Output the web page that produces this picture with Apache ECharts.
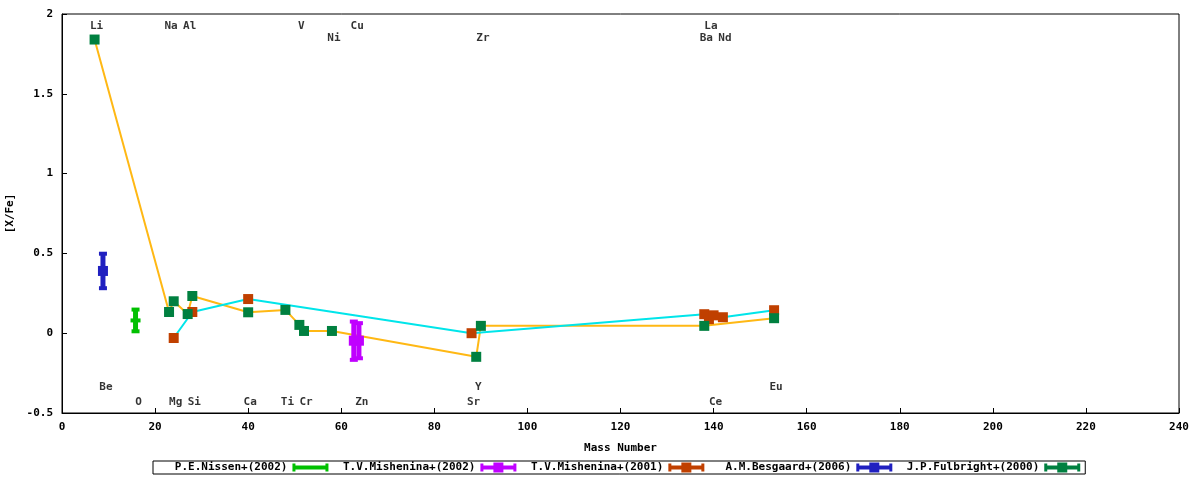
<!DOCTYPE html>
<html>
<head>
<meta charset="utf-8">
<script src="https://cdn.jsdelivr.net/npm/echarts@6/dist/echarts.min.js"></script>
<style>html,body{margin:0;padding:0;background:#fff}#c{width:1200px;height:480px}</style>
</head>
<body>
<div id="c"></div>
<script>
// ---- data ----
const seriesNames = ['P.E.Nissen+(2002)', 'T.V.Mishenina+(2002)', 'T.V.Mishenina+(2001)', 'A.M.Besgaard+(2006)', 'J.P.Fulbright+(2000)'];

const nissenX = [15.8];
const nissenY = [0.08];
const nissenErr = [0.068];

const mish02X = [62.7, 63.8];
const mish02Y = [-0.047, -0.047];
const mish02Err = [0.12, 0.11];

const mish01X = [24, 28, 40, 88, 138, 139, 140, 142, 153];
const mish01Y = [-0.03, 0.133, 0.214, 0.0, 0.119, 0.088, 0.112, 0.10, 0.144];

const besgX = [8.8];
const besgY = [0.39];
const besgErr = [0.108];

const fulX = [7, 23, 24, 27, 28, 40, 48, 51, 52, 58, 89, 90, 138, 153];
const fulY = [1.84, 0.133, 0.20, 0.12, 0.233, 0.131, 0.146, 0.052, 0.014, 0.014, -0.148, 0.046, 0.046, 0.094];

// element labels (name, mass number, row level)
const elemNames = ['Li', 'Na', 'Al', 'V', 'Cu', 'La', 'Ni', 'Zr', 'Ba', 'Nd', 'Be', 'Y', 'Eu', 'O', 'Mg', 'Si', 'Ca', 'Ti', 'Cr', 'Zn', 'Sr', 'Ce'];
const elemMass  = [7, 23, 27, 51, 63, 139, 58, 90, 138, 142, 9, 89, 153, 16, 24, 28, 40, 48, 52, 64, 88, 140];
const elemLevel = [1.923, 1.923, 1.923, 1.923, 1.923, 1.923, 1.85, 1.85, 1.85, 1.85, -0.34, -0.34, -0.34, -0.433, -0.433, -0.433, -0.433, -0.433, -0.433, -0.433, -0.433, -0.433];

const xTicks = { min: 0, max: 240, interval: 20 };
const yTicks = { min: -0.5, max: 2, interval: 0.5 };

// ---- styles ----
const colors = ['#00c000', '#c000ff', '#c04000', '#2020c0', '#008040'];
const FONT = 'DejaVu Sans Mono';

function errData(xs, ys, es) { return xs.map((x, i) => [x, ys[i], es[i]]); }
function pts(xs, ys) { return xs.map((x, i) => [x, ys[i]]); }

function errRender(centerW, centerH) {
  return function (params, api) {
    const x = api.value(0), y = api.value(1), e = api.value(2);
    const c = api.coord([x, y]);
    const t = api.coord([x, y + e]);
    const b = api.coord([x, y - e]);
    const col = api.visual('color');
    const st = { fill: col };
    return {
      type: 'group',
      children: [
        { type: 'rect', shape: { x: c[0] - 2.5, y: t[1], width: 5, height: b[1] - t[1] }, style: st },
        { type: 'rect', shape: { x: c[0] - 4, y: t[1] - 2, width: 8, height: 4 }, style: st },
        { type: 'rect', shape: { x: c[0] - 4, y: b[1] - 2, width: 8, height: 4 }, style: st },
        { type: 'rect', shape: { x: c[0] - centerW / 2, y: c[1] - centerH / 2, width: centerW, height: centerH }, style: st }
      ]
    };
  };
}

const iconBox = 'path://M0,1h3v8h-3zM33,1h3v8h-3zM0,3h36v4h-36zM13,0h10v10h-10z';
const iconBar = 'path://M0,1h3v8h-3zM33,1h3v8h-3zM0,3h36v4h-36zM0,0h0.01v10h-0.01z';

const chart = echarts.init(document.getElementById('c'), null, { renderer: 'canvas' });
chart.setOption({
  animation: false,
  backgroundColor: '#fff',
  textStyle: { fontFamily: FONT, fontWeight: 'bold' },
  grid: { left: 62, right: 21, top: 14, bottom: 67, show: true, borderColor: '#000', borderWidth: 1,
    containLabel: false, outerBoundsMode: 'none' },
  legend: {
    left: 153, top: 461,
    align: 'right',
    orient: 'horizontal',
    itemWidth: 36, itemHeight: 10, itemGap: 14.5,
    padding: [1, 5, 1, 2],
    borderColor: '#000', borderWidth: 1, borderRadius: 0,
    textStyle: { fontFamily: FONT, fontWeight: 'bold', fontSize: 11, color: '#000' },
    formatter: n => n.padStart(20, '\u00a0'),
    data: seriesNames.map((n, i) => ({ name: n, icon: i === 0 ? iconBar : iconBox }))
  },
  xAxis: {
    type: 'value', min: xTicks.min, max: xTicks.max, interval: xTicks.interval,
    name: 'Mass Number', nameLocation: 'middle', nameGap: 30,
    nameTextStyle: { fontFamily: FONT, fontWeight: 'bold', fontSize: 11, color: '#000' },
    axisLine: { show: true, onZero: false, lineStyle: { color: '#000', width: 1 } },
    axisTick: { show: true, inside: true, length: 5, lineStyle: { color: '#000' } },
    axisLabel: { margin: 9, fontFamily: FONT, fontWeight: 'bold', fontSize: 11, color: '#000' },
    splitLine: { show: false }
  },
  yAxis: {
    type: 'value', min: yTicks.min, max: yTicks.max, interval: yTicks.interval,
    name: '[X/Fe]', nameLocation: 'middle', nameGap: 46, nameRotate: 90,
    nameTextStyle: { fontFamily: FONT, fontWeight: 'bold', fontSize: 11, color: '#000' },
    axisLine: { show: true, onZero: false, lineStyle: { color: '#000', width: 1 } },
    axisTick: { show: true, inside: true, length: 5, lineStyle: { color: '#000' } },
    axisLabel: { margin: 9, fontFamily: FONT, fontWeight: 'bold', fontSize: 11, color: '#000' },
    splitLine: { show: false }
  },
  series: [
    // connecting lines
    { type: 'line', data: pts(fulX, fulY), showSymbol: false, symbol: 'none', silent: true, z: 1,
      lineStyle: { color: '#ffb814', width: 2 } },
    { type: 'line', data: pts(mish01X, mish01Y), showSymbol: false, symbol: 'none', silent: true, z: 1,
      lineStyle: { color: '#00e5ea', width: 2 } },
    // error bar series
    { name: seriesNames[0], type: 'custom', z: 3, itemStyle: { color: colors[0] },
      data: errData(nissenX, nissenY, nissenErr), renderItem: errRender(10, 4) },
    { name: seriesNames[1], type: 'custom', z: 3, itemStyle: { color: colors[1] },
      data: errData(mish02X, mish02Y, mish02Err), renderItem: errRender(10, 10) },
    { name: seriesNames[2], type: 'scatter', z: 3, symbol: 'rect', symbolSize: 10, itemStyle: { color: colors[2], opacity: 1 },
      data: pts(mish01X, mish01Y) },
    { name: seriesNames[3], type: 'custom', z: 3, itemStyle: { color: colors[3] },
      data: errData(besgX, besgY, besgErr), renderItem: errRender(10, 10) },
    { name: seriesNames[4], type: 'scatter', z: 4, symbol: 'rect', symbolSize: 10, itemStyle: { color: colors[4], opacity: 1 },
      data: pts(fulX, fulY) },
    // element labels
    { type: 'scatter', silent: true, z: 5, symbolSize: 0, itemStyle: { color: '#000' },
      data: elemNames.map((n, i) => ({ name: n, value: [elemMass[i], elemLevel[i]] })),
      label: { show: true, position: 'inside', offset: [2, 0], formatter: p => p.name,
        fontFamily: FONT, fontWeight: 'bold', fontSize: 11, color: '#000' } }
  ]
});
</script>
</body>
</html>
